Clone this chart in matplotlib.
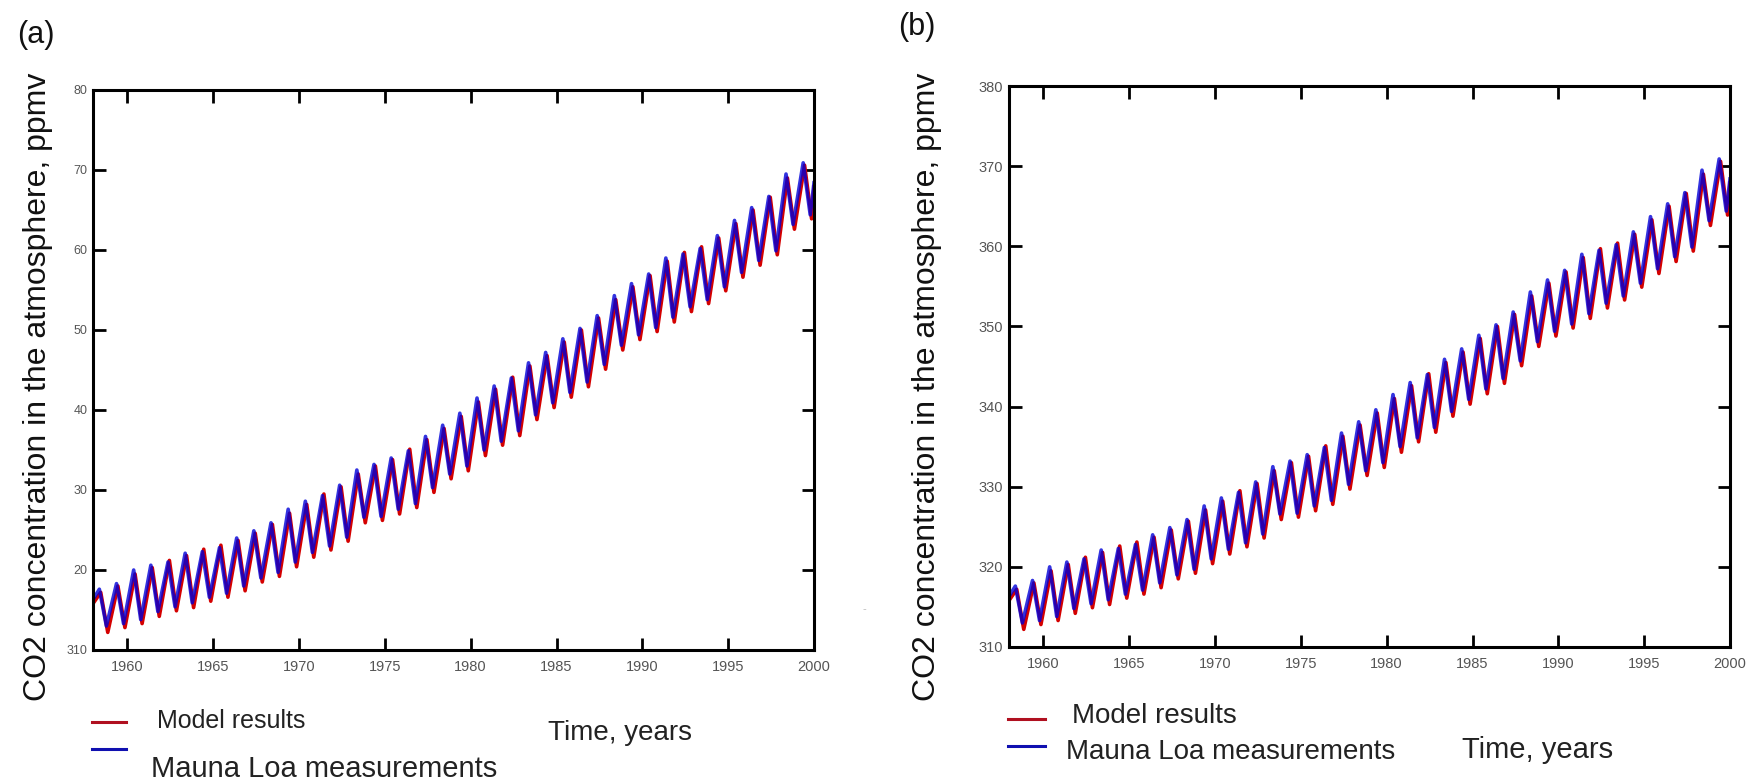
import numpy as np
import matplotlib
matplotlib.use("Agg")
import matplotlib.pyplot as plt
from matplotlib.lines import Line2D

plt.rcParams['font.family'] = ['Liberation Sans', 'DejaVu Sans']

# ---------------- data ----------------
years = list(range(1958, 2000))
# Mauna Loa measurements: annual seasonal maximum (spring) and minimum (autumn), ppmv
obs_peak = [317.6, 318.3, 320.0, 320.6, 321.0, 322.1, 322.3, 322.8, 324.0, 324.9,
            325.9, 327.6, 328.6, 329.3, 330.6, 332.5, 333.2, 334.0, 334.9, 336.7,
            338.1, 339.6, 341.5, 343.0, 344.0, 345.9, 347.2, 348.9, 350.2, 351.8,
            354.3, 355.8, 357.0, 359.0, 359.5, 360.2, 361.8, 363.7, 365.3, 366.7,
            369.5, 370.9]
obs_trough = [313.0, 313.3, 313.8, 314.8, 315.4, 315.9, 316.6, 317.1, 318.0, 319.0,
              319.7, 321.0, 322.2, 323.0, 324.1, 326.6, 326.7, 327.6, 328.3, 330.3,
              332.0, 333.0, 335.0, 336.1, 337.4, 339.4, 340.9, 342.2, 343.5, 345.7,
              348.1, 349.4, 350.3, 351.6, 352.9, 353.8, 355.4, 357.2, 358.7, 359.9,
              363.2, 364.4]
obs_start, obs_end = 316.3, 368.4

# Model results
mod_peak = [317.2, 318.0, 319.5, 320.3, 321.2, 321.8, 322.6, 323.1, 323.7, 324.6,
            325.7, 327.1, 328.2, 329.5, 330.4, 332.0, 333.0, 333.8, 335.1, 336.3,
            337.7, 339.2, 341.0, 342.6, 344.1, 345.5, 346.8, 348.5, 350.0, 351.5,
            353.8, 355.4, 356.8, 358.6, 359.7, 360.4, 361.5, 363.3, 365.0, 366.6,
            369.0, 370.6]
mod_trough = [312.2, 312.8, 313.3, 314.2, 314.9, 315.3, 316.1, 316.6, 317.4, 318.5,
              319.2, 320.4, 321.6, 322.5, 323.6, 325.9, 326.2, 327.0, 327.8, 329.7,
              331.4, 332.4, 334.3, 335.6, 336.8, 338.8, 340.3, 341.6, 342.9, 345.1,
              347.5, 348.8, 349.8, 351.0, 352.3, 353.3, 354.9, 356.6, 358.1, 359.4,
              362.6, 363.9]
mod_start, mod_end = 315.8, 367.9

peak_phase, trough_phase = 0.37, 0.78   # fraction of the year of seasonal max / min
model_lag = 0.08

x_ticks = [1960, 1965, 1970, 1975, 1980, 1985, 1990, 1995, 2000]
y_ticks = [310, 320, 330, 340, 350, 360, 370, 380]
y_labels_a = ["310", "20", "30", "40", "50", "60", "70", "80"]
y_labels_b = ["310", "320", "330", "340", "350", "360", "370", "380"]


def zigzag(peaks, troughs, start, end, lag=0.0):
    t = [1958.0]
    v = [start]
    for y, p, tr in zip(years, peaks, troughs):
        t += [y + peak_phase + lag, y + trough_phase + lag]
        v += [p, tr]
    t.append(2000.0)
    v.append(end)
    return np.array(t), np.array(v)


t_obs, v_obs = zigzag(obs_peak, obs_trough, obs_start, obs_end)
t_mod, v_mod = zigzag(mod_peak, mod_trough, mod_start, mod_end, model_lag)

RED = '#d40000'
BLUE = '#0000d8'
W, H = 1763, 782

fig = plt.figure(figsize=(W / 100, H / 100), dpi=100)
ax_a = fig.add_axes([93 / W, 1 - 650 / H, (814 - 93) / W, (650 - 90) / H])
ax_b = fig.add_axes([1009 / W, 1 - 647 / H, (1730 - 1009) / W, (647 - 86) / H])


def style(ax, ylabels, ysize):
    ax.plot(t_mod, v_mod, color=RED, lw=2.6)
    ax.plot(t_obs, v_obs, color=BLUE, lw=2.6, alpha=0.8)
    ax.set_xlim(1958, 2000)
    ax.set_ylim(310, 380)
    ax.set_xticks(x_ticks)
    ax.set_xticklabels([str(x) for x in x_ticks])
    ax.set_yticks(y_ticks)
    ax.set_yticklabels(ylabels)
    for s in ax.spines.values():
        s.set_linewidth(2.2)
        s.set_color('black')
    ax.tick_params(axis='both', direction='in', length=9, width=2,
                   top=True, right=True, colors='black')
    ax.tick_params(axis='x', labelsize=10.5, labelcolor='#555555', pad=7)
    ax.tick_params(axis='y', labelsize=ysize, labelcolor='#555555', pad=4)


style(ax_a, y_labels_a, 9)
style(ax_b, y_labels_b, 10.5)

ylabel = "CO2 concentration in the atmosphere, ppmv"
fig.text(38 / W, 1 - 387 / H, ylabel, rotation=90, ha='center', va='center',
         fontsize=23, color='#111111')
fig.text(927 / W, 1 - 387 / H, ylabel, rotation=90, ha='center', va='center',
         fontsize=23, color='#111111')

fig.text(36 / W, 1 - 35 / H, "(a)", ha='center', va='center', fontsize=22, color='#111111')
fig.text(917 / W, 1 - 27 / H, "(b)", ha='center', va='center', fontsize=22, color='#111111')


# legends (handles and texts)
def legend_block(x0, x1, y_red, y_blue, tx, y_model, y_mauna, fs_model, fs_mauna,
                 time_x, time_y, fs_time):
    fig.add_artist(Line2D([x0 / W, x1 / W], [1 - y_red / H, 1 - y_red / H],
                          color='#b01020', lw=2.2))
    fig.add_artist(Line2D([x0 / W, x1 / W], [1 - y_blue / H, 1 - y_blue / H],
                          color='#1010b0', lw=2.2))
    fig.text(tx / W, 1 - y_model / H, "Model results", ha='left', va='center',
             fontsize=fs_model, color='#222222')
    fig.text((tx - 6) / W, 1 - y_mauna / H, "Mauna Loa measurements", ha='left',
             va='center', fontsize=fs_mauna, color='#222222')
    fig.text(time_x / W, 1 - time_y / H, "Time, years", ha='left', va='center',
             fontsize=fs_time, color='#222222')


legend_block(92, 126, 722, 749, 157, 721, 769, 18, 21, 548, 733, 20)
legend_block(1008, 1045, 719, 746, 1072, 716, 752, 20, 20, 1462, 750, 21)

fig.text(864 / W, 1 - 609 / H, "-", ha='center', va='center', fontsize=8, color='#bbbbbb')

fig.savefig("out.png", dpi=100, facecolor='white')
